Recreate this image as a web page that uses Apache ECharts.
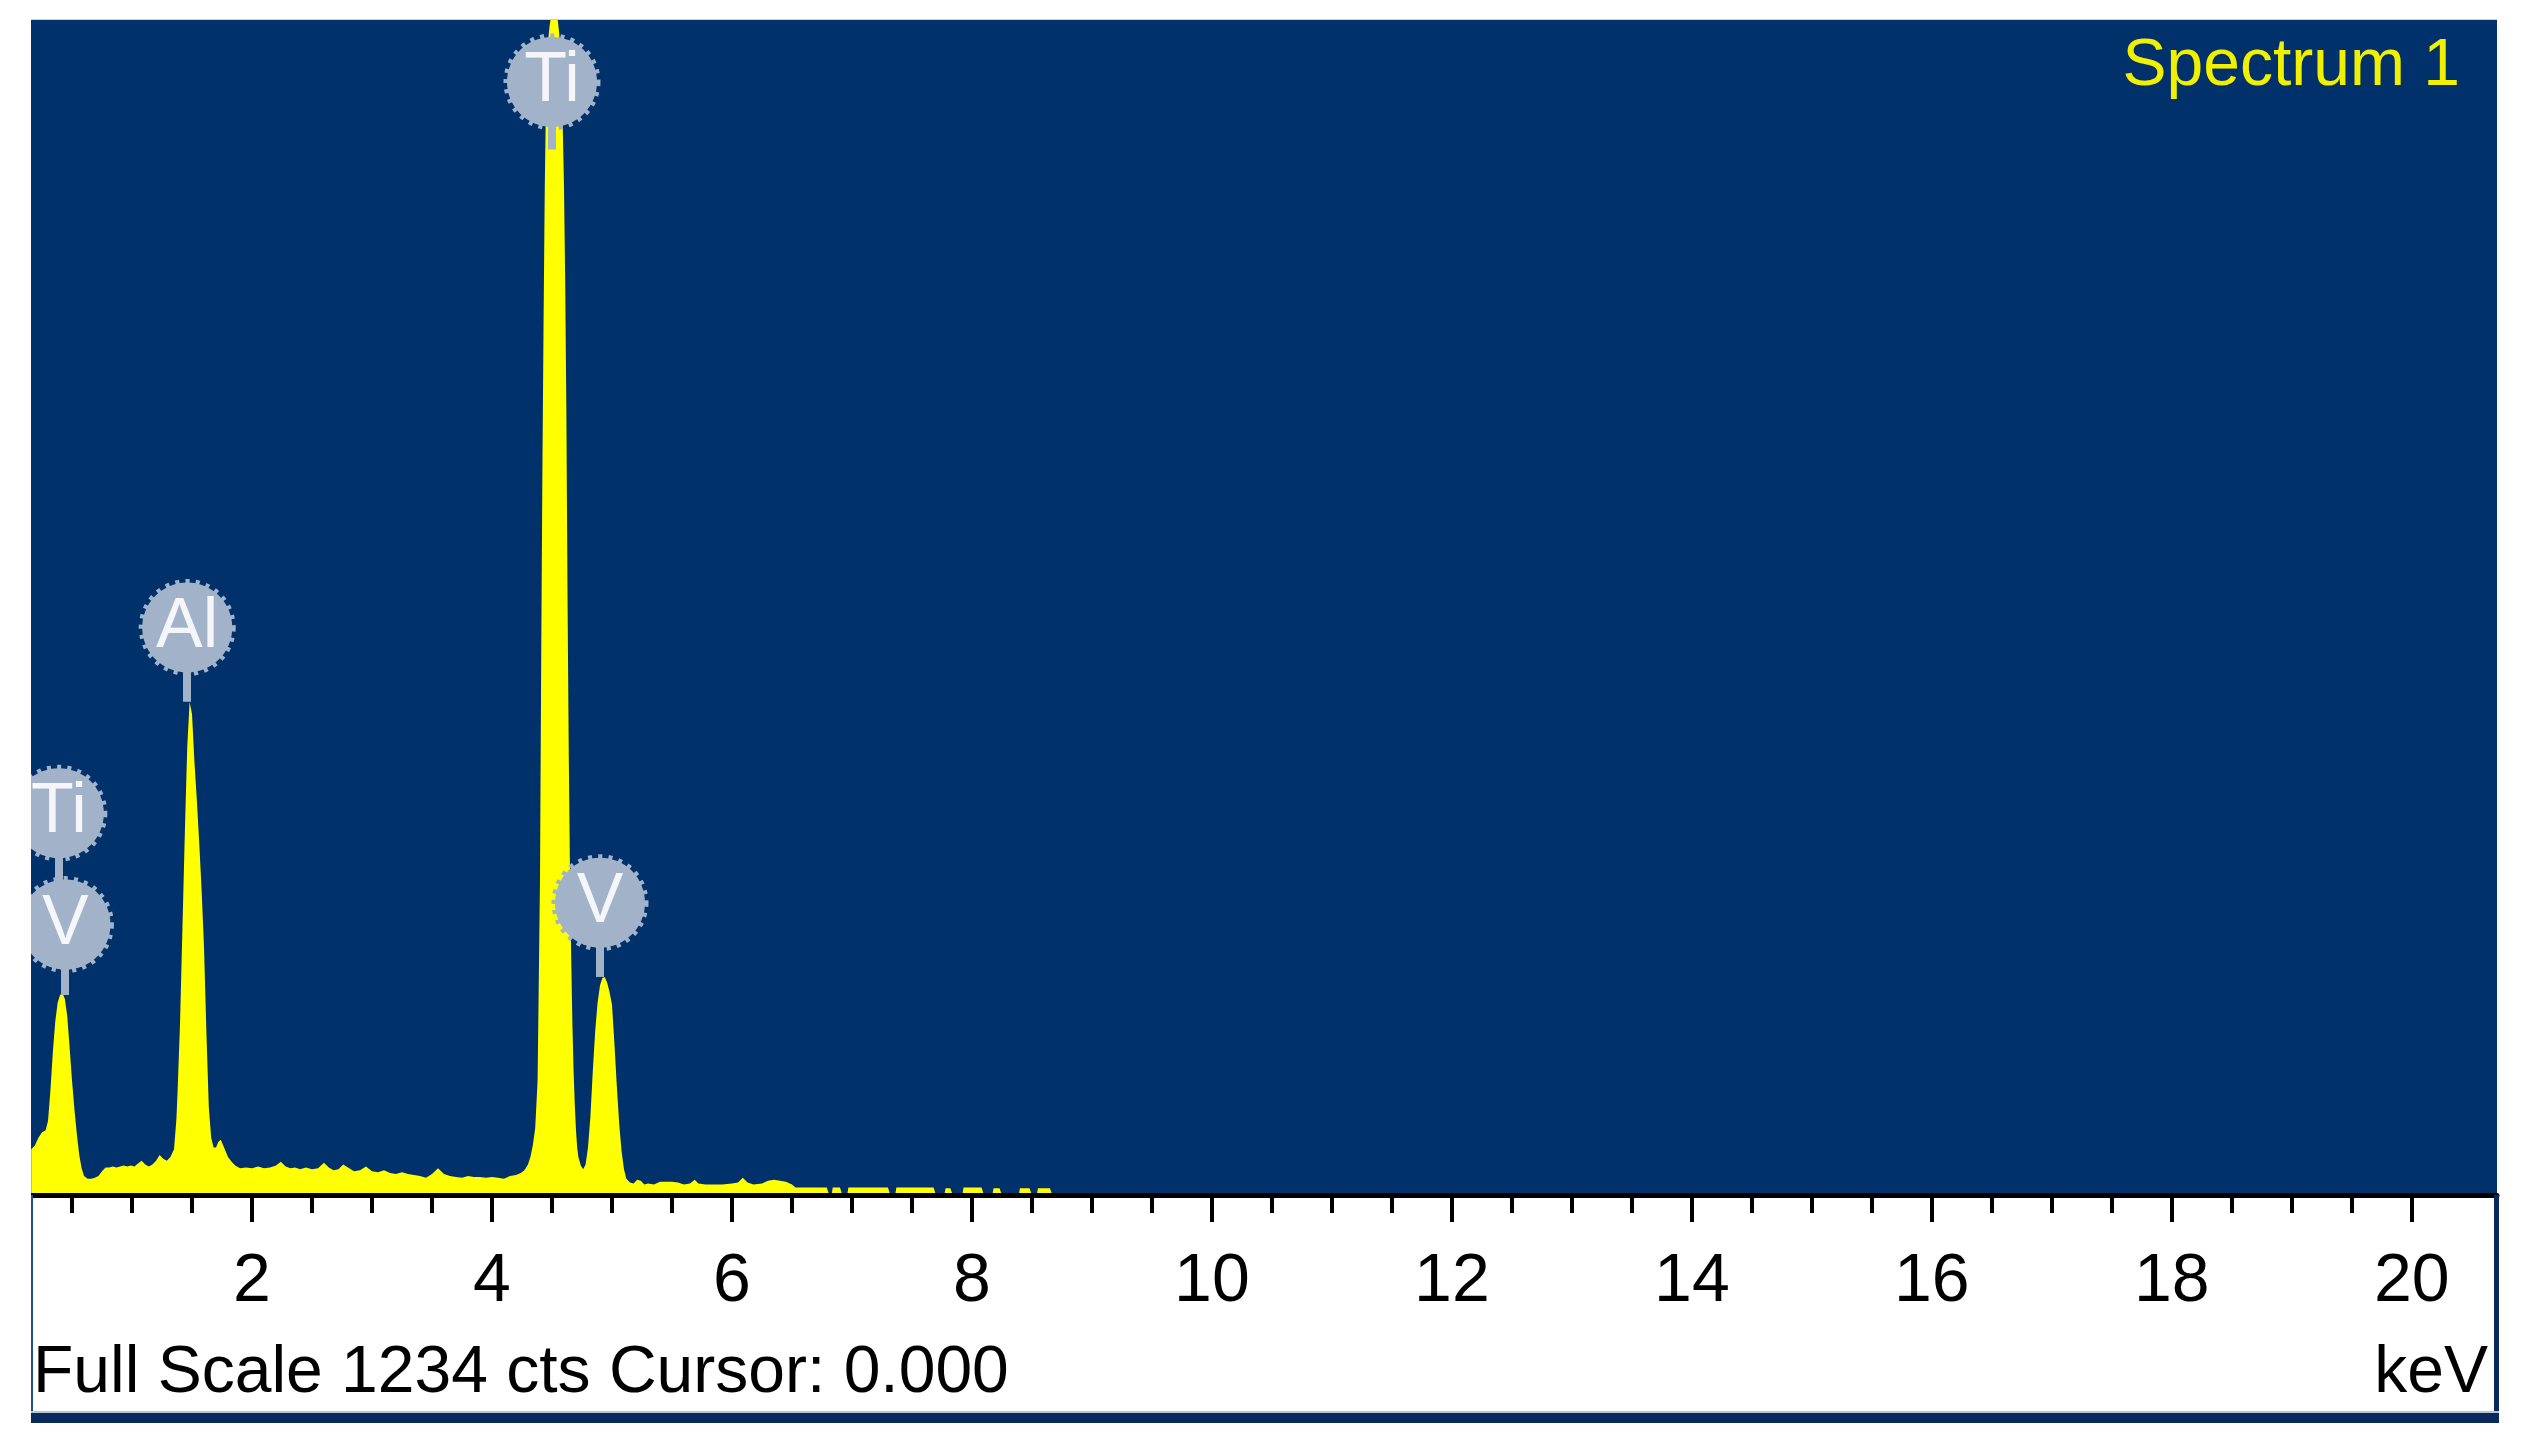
<!DOCTYPE html>
<html>
<head>
<meta charset="utf-8">
<script src="https://cdn.jsdelivr.net/npm/echarts@6/dist/echarts.min.js"></script>
<style>
  html, body { margin: 0; padding: 0; background: #ffffff; }
  #chart { width: 2527px; height: 1455px; }
</style>
</head>
<body>
<div id="chart"></div>
<script>
// ---- Data (energy in keV, counts) ----
const energyKeV = [
  0.16,0.19,0.22,0.25,0.28,0.30,0.32,0.34,0.36,0.38,0.40,0.42,0.44,0.46,0.48,0.50,0.52,0.54,0.56,0.58,
  0.60,0.63,0.66,0.69,0.72,0.75,0.78,0.81,0.84,0.87,0.90,0.93,0.96,0.99,1.02,1.05,1.08,1.11,1.14,1.17,
  1.20,1.23,1.26,1.29,1.32,1.35,1.37,1.38,1.40,1.42,1.44,1.46,1.48,1.50,1.52,1.54,1.56,1.58,1.60,1.62,
  1.64,1.66,1.68,1.70,1.72,1.74,1.76,1.78,1.80,1.83,1.86,1.90,1.95,2.00,2.05,2.10,2.15,2.20,2.24,2.28,
  2.32,2.36,2.40,2.45,2.50,2.55,2.60,2.64,2.68,2.72,2.76,2.80,2.85,2.90,2.95,3.00,3.05,3.10,3.15,3.20,
  3.25,3.30,3.35,3.40,3.45,3.50,3.55,3.60,3.65,3.70,3.75,3.80,3.85,3.90,3.95,4.00,4.05,4.10,4.15,4.20,
  4.24,4.27,4.30,4.32,4.34,4.36,4.38,4.40,4.41,4.42,4.43,4.44,4.45,4.46,4.47,4.48,4.49,4.50,4.51,4.52,
  4.53,4.54,4.55,4.56,4.57,4.58,4.59,4.60,4.61,4.62,4.63,4.64,4.65,4.66,4.67,4.68,4.69,4.70,4.71,4.72,
  4.74,4.76,4.78,4.80,4.82,4.84,4.86,4.88,4.90,4.92,4.94,4.96,4.98,5.00,5.02,5.04,5.06,5.08,5.10,5.12,
  5.15,5.18,5.21,5.24,5.27,5.30,5.35,5.40,5.45,5.50,5.55,5.60,5.65,5.69,5.72,5.78,5.85,5.92,6.00,6.05,
  6.09,6.13,6.18,6.25,6.30,6.35,6.40,6.45,6.50,6.53,6.79,6.81,6.83,6.84,6.90,6.92,6.96,6.97,7.30,7.32,
  7.36,7.37,7.68,7.70,7.77,7.78,7.82,7.84,7.92,7.93,8.08,8.10,8.17,8.18,8.23,8.25,8.39,8.40,8.48,8.50,
  8.54,8.55,8.65,8.67,20.71
];
const counts = [
  48,52,60,66,68,78,110,150,182,202,210,212,206,188,155,120,90,64,42,28,
  20,17,17,18,20,25,29,29,30,29,30,31,30,31,30,33,36,32,30,32,
  36,42,38,36,40,48,80,110,180,280,380,470,518,505,455,415,370,320,260,170,
  92,60,50,50,56,58,52,46,40,35,31,28,29,28,30,28,29,31,35,30,
  28,29,27,29,27,28,34,29,26,27,32,29,25,26,30,25,24,26,23,22,
  24,22,21,20,18,22,28,22,20,19,18,20,19,19,18,19,18,17,20,21,
  23,26,32,40,52,70,120,330,560,760,920,1060,1150,1195,1215,1228,1236,1242,1246,1248,
  1246,1240,1232,1220,1200,1165,1120,1060,960,820,620,460,340,250,180,130,95,68,50,40,
  31,27,32,50,82,130,172,202,220,228,229,223,213,200,160,115,75,46,27,17,
  13,12,16,15,11,12,11,14,14,14,13,11,12,16,12,11,11,11,12,13,
  18,13,11,12,15,16,15,14,11,8,8,0,0,8,8,0,0,8,8,0,
  0,8,8,0,0,7,7,0,0,8,8,0,0,7,7,0,0,7,7,0,
  0,7,7,0,0
];

// Element markers
const markerNames  = ['Ti', 'Al', 'Ti', 'V', 'V'];
const markerEnergy = [4.50, 1.46, 0.39, 0.445, 4.90];
const markerCounts = [1169, 596, 401, 284, 307];

// Marker stems (from marker centre down to peak top)
const stemEnergy = [4.50, 1.46, 0.39, 0.44, 4.90];
const stemFrom   = [1169, 596, 401, 284, 307];
const stemTo     = [1098, 518, 284, 210, 229];

// Axis ticks
const minorTicks = [0.5,1,1.5,2,2.5,3,3.5,4,4.5,5,5.5,6,6.5,7,7.5,8,8.5,9,9.5,10,
                    10.5,11,11.5,12,12.5,13,13.5,14,14.5,15,15.5,16,16.5,17,17.5,18,18.5,19,19.5,20];
const majorTicks = [2,4,6,8,10,12,14,16,18,20];

const fullScale = 1234;
const xMin = 0.158, xMax = 20.71;

const spectrum = energyKeV.map((e, i) => [e, counts[i]]);
const markers = markerEnergy.map((e, i) => [e, markerCounts[i], markerNames[i]]);
const stems = stemEnergy.map((e, i) => ({ coords: [[e, stemFrom[i]], [e, stemTo[i]]] }));

const FONT = '"Liberation Sans", Arial, sans-serif';
const chart = echarts.init(document.getElementById('chart'), null, { renderer: 'canvas' });

chart.setOption({
  animation: false,
  backgroundColor: '#ffffff',
  title: [
    {
      text: 'Spectrum 1', right: 67, top: 34, padding: 0,
      textStyle: { color: '#f0f000', fontSize: 66, fontWeight: 'normal', fontFamily: FONT, lineHeight: 66 }
    },
    {
      text: 'Full Scale 1234 cts Cursor: 0.000', left: 33, top: 1341, padding: 0,
      textStyle: { color: '#000000', fontSize: 66, fontWeight: 'normal', fontFamily: FONT, lineHeight: 66 }
    },
    {
      text: 'keV', right: 39, top: 1341, padding: 0,
      textStyle: { color: '#000000', fontSize: 66, fontWeight: 'normal', fontFamily: FONT, lineHeight: 66 }
    }
  ],
  grid: {
    left: 31, top: 20, width: 2466, height: 1175,
    show: true, backgroundColor: '#00316b', borderWidth: 0
  },
  xAxis: [
    {
      type: 'value', min: xMin, max: xMax, position: 'bottom', z: 10,
      axisLine: { show: true, onZero: false, lineStyle: { color: '#000000', width: 5 } },
      axisTick: { show: true, customValues: minorTicks, length: 18, lineStyle: { color: '#000000', width: 4 } },
      axisLabel: { show: false },
      splitLine: { show: false }
    },
    {
      type: 'value', min: xMin, max: xMax, position: 'bottom', z: 10,
      axisLine: { show: false },
      axisTick: { show: true, customValues: majorTicks, length: 27, lineStyle: { color: '#000000', width: 4 } },
      axisLabel: {
        show: true, customValues: majorTicks, margin: 53,
        fontSize: 68, fontFamily: FONT, color: '#000000'
      },
      splitLine: { show: false }
    }
  ],
  yAxis: {
    type: 'value', min: 0, max: fullScale,
    show: false, splitLine: { show: false }
  },
  series: [
    {
      type: 'line', name: 'spectrum', data: spectrum, xAxisIndex: 0,
      symbol: 'none', smooth: false, clip: true, z: 2,
      lineStyle: { width: 0, opacity: 0 },
      areaStyle: { color: '#ffff00', opacity: 1 }
    },
    {
      type: 'lines', coordinateSystem: 'cartesian2d', xAxisIndex: 0, data: stems, z: 5,
      silent: true,
      lineStyle: { color: '#a2b3c9', width: 8, opacity: 1, curveness: 0 }
    },
    {
      type: 'scatter', data: markers, xAxisIndex: 0, z: 6, clip: false,
      symbol: 'circle', symbolSize: 90,
      itemStyle: { color: '#a2b3c9', borderColor: '#a2b3c9', borderWidth: 7, borderType: [4, 6], opacity: 1 },
      label: {
        show: true, position: 'inside',
        formatter: p => p.data[2],
        fontSize: 70, fontFamily: FONT, color: '#f4f6fa'
      }
    }
  ],
  graphic: [
    { type: 'rect', shape: { x: 0, y: 0, width: 31, height: 1455 }, style: { fill: '#ffffff' }, z: 100 },
    { type: 'rect', shape: { x: 31, y: 19, width: 2466, height: 1 }, style: { fill: '#c9d1dc' }, z: 100 },
    { type: 'rect', shape: { x: 31, y: 1195, width: 2, height: 228 }, style: { fill: '#1d4f8c' }, z: 100 },
    { type: 'rect', shape: { x: 2494, y: 1195, width: 5, height: 228 }, style: { fill: '#0a2a5e' }, z: 100 },
    { type: 'rect', shape: { x: 31, y: 1411, width: 2468, height: 2 }, style: { fill: '#b8c4d4' }, z: 100 },
    { type: 'rect', shape: { x: 31, y: 1413, width: 2468, height: 10 }, style: { fill: '#0a2a5e' }, z: 100 }
  ]
});
</script>
</body>
</html>
